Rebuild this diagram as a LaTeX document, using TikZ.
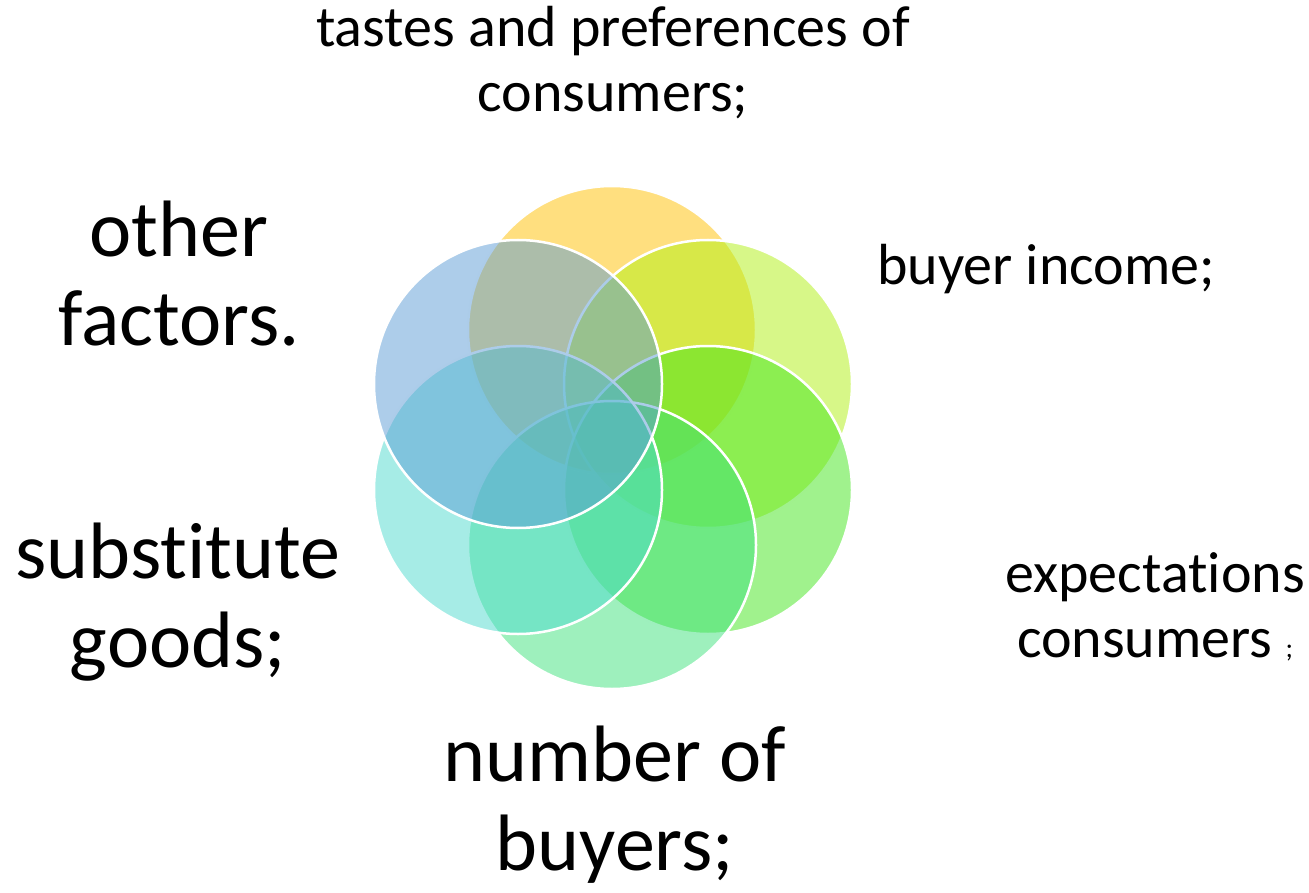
\documentclass[tikz,border=0pt]{standalone}
\usepackage{fontspec}
\setmainfont{Carlito}[Ligatures=NoCommon]
\usetikzlibrary{positioning}

\definecolor{petalgold}{RGB}{255,192,0}
\definecolor{petallime}{RGB}{176,240,18}
\definecolor{petalgreen}{RGB}{66,229,28}
\definecolor{petalmint}{RGB}{62,225,124}
\definecolor{petalcyan}{RGB}{78,218,205}
\definecolor{petalblue}{RGB}{91,155,213}

\begin{document}
\begin{tikzpicture}[
    x=1pt, y=-1pt,
    petal/.style={circle, draw=white, line width=2.5pt, fill opacity=0.5, minimum size=288pt, inner sep=0pt},
    small/.style={font=\fontsize{58}{65}\selectfont, align=center, inner sep=0pt, anchor=base},
    big/.style={font=\fontsize{80}{89}\selectfont, align=center, inner sep=0pt, anchor=base}
]

\useasboundingbox (0,0) rectangle (1309,893);

% Petals, clockwise from the top
\node[petal, fill=petalgold] (tastes) at (612,330) {};
\node[petal, fill=petallime] (income) at (708,384) {};
\node[petal, fill=petalgreen] (expect) at (708,490) {};
\node[petal, fill=petalmint] (buyers) at (612,545) {};
\node[petal, fill=petalcyan] (subst) at (518,490) {};
\node[petal, fill=petalblue] (other) at (518,384) {};

% Factor labels (anchored on the last line)
\node[small] (ltastes) at (613,112) {tastes and preferences of\\consumers;};
\node[small] (lincome) at (1046,285) {buyer income;};
\node[small] (lexpect) at (1155,657) {expectations\\consumers {\fontsize{28}{30}\selectfont ;}};
\node[big] (lbuyers) at (615,870) {number of\\buyers;};
\node[big] (lsubst) at (178,667) {substitute\\goods;};
\node[big] (lother) at (179,345) {other\\factors.};

\end{tikzpicture}
\end{document}
